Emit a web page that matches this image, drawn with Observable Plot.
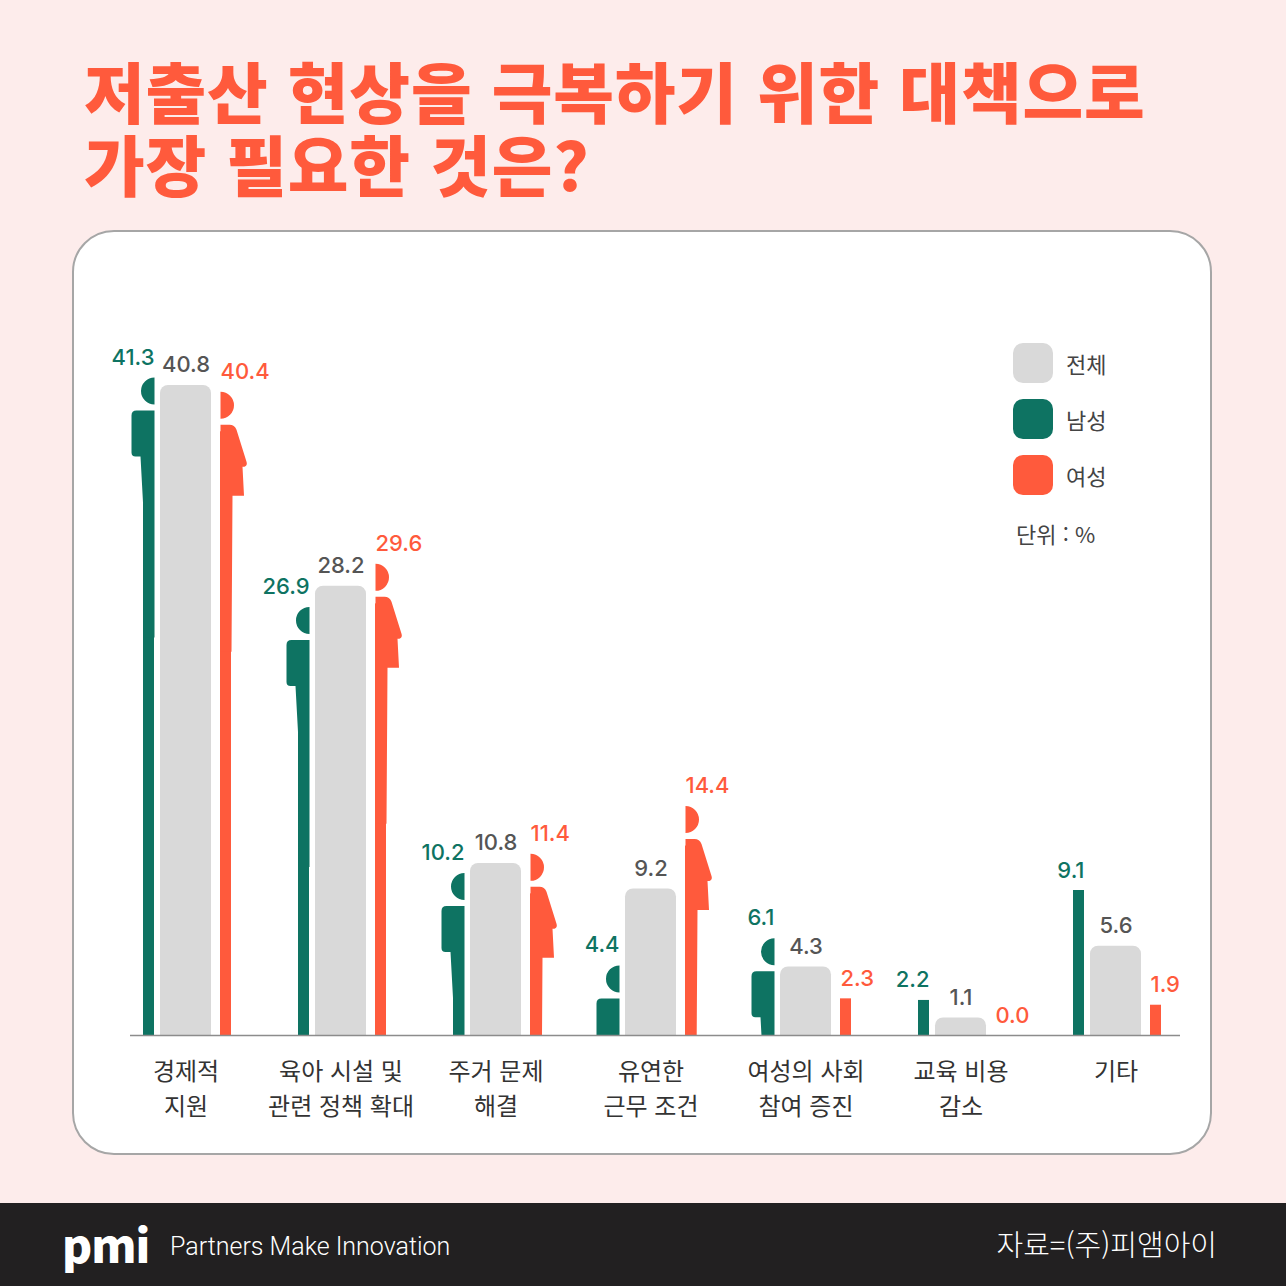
<!DOCTYPE html>
<html lang="ko">
<head>
<meta charset="utf-8">
<script src="https://cdn.jsdelivr.net/npm/d3@7"></script>
<script src="https://cdn.jsdelivr.net/npm/@observablehq/plot@0.6"></script>
<style>
  html, body { margin: 0; padding: 0; }
  body { width: 1286px; height: 1286px; background: #fdeceb; position: relative; overflow: hidden;
         font-family: Inter, "Noto Sans CJK KR", sans-serif; }
  .title { position: absolute; left: 84px; top: 53px; margin: 0; color: #ff5a3c;
           font-family: "Noto Sans CJK KR", sans-serif; font-weight: 900; font-size: 66px;
           line-height: 73px; letter-spacing: 0.8px; white-space: nowrap; }
  .panel { position: absolute; left: 72px; top: 230px; width: 1136px; height: 921px;
           background: #fff; border: 2px solid #a6a6a6; border-radius: 42px; }
  #chart { position: absolute; left: 72px; top: 232px; }
  .legend { position: absolute; left: 1013px; top: 343px; width: 140px; }
  .legend .item { position: relative; height: 40px; margin-bottom: 16px; }
  .legend .sw { position: absolute; left: 0; top: 0; width: 40px; height: 40px; border-radius: 10px; }
  .legend .lb { position: absolute; left: 53px; top: 0; line-height: 40px; font-size: 22px; color: #444;
                white-space: nowrap; font-family: "Noto Sans CJK KR", sans-serif; }
  .unit { position: absolute; left: 1016px; top: 518px; font-size: 22px; line-height: 30px; color: #444;
          white-space: nowrap; font-family: "Noto Sans CJK KR", sans-serif; }
  .footer { position: absolute; left: 0; top: 1203px; width: 1286px; height: 83px; background: #222021; color: #fff; }
  .logo { position: absolute; left: 62px; top: 14px; font-family: "Noto Sans CJK KR", sans-serif; font-weight: 900;
          font-size: 46px; line-height: 52px; letter-spacing: -1px; }
  .pmi-text { position: absolute; left: 170px; top: 28px; font-family: Roboto, sans-serif; font-weight: 300;
              font-size: 25px; line-height: 32px; white-space: nowrap; }
  .source { position: absolute; right: 69px; top: 20px; font-family: "Noto Sans CJK KR", sans-serif; font-weight: 300;
            font-size: 29px; line-height: 40px; white-space: nowrap; }
</style>
</head>
<body>
<h1 class="title">저출산 현상을 극복하기 위한 대책으로<br>가장 필요한 것은?</h1>
<div class="panel"></div>
<div id="chart"></div>
<div class="legend" id="legend"></div>
<div class="unit">단위 : %</div>
<div class="footer">
  <div class="logo">pmi</div>
  <div class="pmi-text">Partners Make Innovation</div>
  <div class="source">자료=(주)피앰아이</div>
</div>
<script>
// ---- data ----
const categories = ["경제적\n지원", "육아 시설 및\n관련 정책 확대", "주거 문제\n해결", "유연한\n근무 조건", "여성의 사회\n참여 증진", "교육 비용\n감소", "기타"];
const totalValues  = [40.8, 28.2, 10.8, 9.2, 4.3, 1.1, 5.6];
const maleValues   = [41.3, 26.9, 10.2, 4.4, 6.1, 2.2, 9.1];
const femaleValues = [40.4, 29.6, 11.4, 14.4, 2.3, 0.0, 1.9];
const maleFigure   = [true, true, true, true, true, false, false];
const femaleFigure = [true, true, true, true, false, false, false];
const seriesNames  = ["전체", "남성", "여성"];

const GREEN = "#0e7362", RED = "#ff5a3c", GRAY = "#d9d9d9";
const seriesColors = [GRAY, GREEN, RED];

const rows = categories.map((c, i) => ({
  category: c,
  total: totalValues[i],
  male: maleValues[i],
  female: femaleValues[i],
  maleFig: maleFigure[i],
  femaleFig: femaleFigure[i]
}));

const fmt = d3.format(".1f");

// half-person silhouettes, drawn relative to the top-centre of the thin bar
const manSymbol = {
  draw(p) {
    const R = 5.5;
    p.moveTo(R, 0);
    p.arc(R, 13.5, 13.5, -Math.PI / 2, Math.PI / 2, true);
    p.closePath();
    p.moveTo(R, 33);
    p.lineTo(R - 18, 33);
    p.quadraticCurveTo(R - 23, 33, R - 23, 38);
    p.lineTo(R - 23, 75);
    p.quadraticCurveTo(R - 23, 79, R - 19, 79);
    p.lineTo(R - 14, 79);
    p.lineTo(R - 11.5, 125);
    p.lineTo(R - 11, 260);
    p.lineTo(R, 260);
    p.closePath();
  }
};
const womanSymbol = {
  draw(p) {
    const L = -5.5;
    p.moveTo(L, 0);
    p.arc(L, 13.5, 13.5, -Math.PI / 2, Math.PI / 2, false);
    p.closePath();
    p.moveTo(L, 33);
    p.lineTo(L + 9, 33);
    p.quadraticCurveTo(L + 14, 33, L + 16, 38);
    p.lineTo(L + 26, 70);
    p.quadraticCurveTo(L + 27.5, 75, L + 22, 75);
    p.lineTo(L + 23.5, 104);
    p.lineTo(L + 12, 104);
    p.lineTo(L + 11, 260);
    p.lineTo(L, 260);
    p.closePath();
  }
};

const MALE_DX = -37, FEMALE_DX = 40;

const chart = Plot.plot({
  width: 1140,
  height: 923,
  marginTop: 86,
  marginBottom: 120,
  marginLeft: 58,
  marginRight: 41,
  style: { background: "transparent", fontFamily: 'Inter, "Noto Sans CJK KR", sans-serif' },
  x: { domain: categories, paddingInner: 0.672, paddingOuter: 0.183, axis: null },
  y: { domain: [0, 45], axis: null },
  marks: [
    // total (wide rounded bars)
    Plot.barY(rows, { x: "category", y: "total", fill: GRAY, rx: 8, insetBottom: -14, clip: true }),
    // male thin bars
    Plot.barY(rows, { x: "category", y: "male", fill: GREEN, dx: MALE_DX, insetLeft: 20, insetRight: 20,
                      insetTop: 40, filter: d => d.maleFig }),
    Plot.barY(rows, { x: "category", y: "male", fill: GREEN, dx: MALE_DX, insetLeft: 20, insetRight: 20,
                      filter: d => !d.maleFig }),
    Plot.dot(rows, { x: "category", y: "male", symbol: manSymbol, r: 1, fill: GREEN, dx: MALE_DX,
                     clip: true, filter: d => d.maleFig }),
    // female thin bars
    Plot.barY(rows, { x: "category", y: "female", fill: RED, dx: FEMALE_DX, insetLeft: 20, insetRight: 20,
                      insetTop: 40, filter: d => d.femaleFig }),
    Plot.barY(rows, { x: "category", y: "female", fill: RED, dx: FEMALE_DX, insetLeft: 20, insetRight: 20,
                      filter: d => !d.femaleFig }),
    Plot.dot(rows, { x: "category", y: "female", symbol: womanSymbol, r: 1, fill: RED, dx: FEMALE_DX,
                     clip: true, filter: d => d.femaleFig }),
    // baseline
    Plot.ruleY([0], { stroke: "#8c8c8c", strokeWidth: 1.5, insetRight: -9 }),
    // value labels
    Plot.text(rows, { x: "category", y: "total", text: d => fmt(d.total), dy: -20, fill: "#555",
                      fontSize: 22, fontWeight: 500 }),
    Plot.text(rows, { x: "category", y: "male", text: d => fmt(d.male), dx: MALE_DX + 5.5, dy: -20,
                      textAnchor: "end", fill: GREEN, fontSize: 22, fontWeight: 500 }),
    Plot.text(rows, { x: "category", y: "female", text: d => fmt(d.female), dx: FEMALE_DX - 5.5, dy: -20,
                      textAnchor: "start", fill: RED, fontSize: 22, fontWeight: 500 }),
    // category labels
    Plot.text(rows, { x: "category", y: () => 0, text: "category", dy: 20, lineAnchor: "top",
                      lineHeight: 1.45, fill: "#333", fontSize: 24,
                      fontFamily: '"Noto Sans CJK KR", sans-serif' })
  ]
});
document.getElementById("chart").appendChild(chart);

// legend
const legend = document.getElementById("legend");
seriesNames.forEach((name, i) => {
  const item = document.createElement("div");
  item.className = "item";
  item.innerHTML = `<div class="sw" style="background:${seriesColors[i]}"></div><div class="lb">${name}</div>`;
  legend.appendChild(item);
});
</script>
</body>
</html>
